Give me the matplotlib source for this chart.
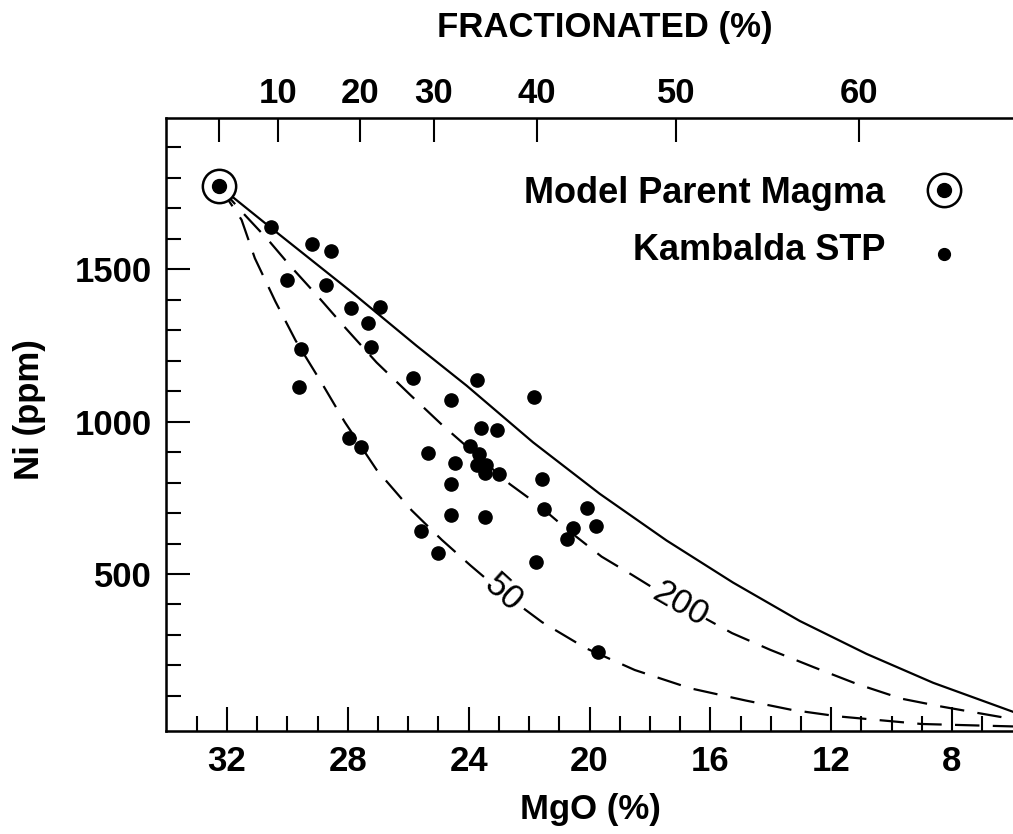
import matplotlib
matplotlib.use("Agg")
import matplotlib.pyplot as plt

plt.rcParams['font.family'] = ['Liberation Sans', 'DejaVu Sans']
plt.rcParams['font.weight'] = 'bold'

# model parent magma
parent_mgo = 32.27
parent_ni = 1773

# Kambalda STP samples
stp_mgo = [30.56, 29.19, 28.57, 30.01, 28.72, 27.90, 26.94, 27.32, 29.56, 27.22,
           29.63, 25.84, 27.96, 27.55, 23.73, 24.60, 21.85, 25.35, 23.60, 23.07,
           23.95, 23.67, 24.46, 23.74, 23.43, 23.47, 23.01, 24.57, 21.56, 20.07,
           21.50, 24.57, 23.46, 19.78, 20.54, 20.76, 25.59, 25.01, 21.78, 19.72]
stp_ni = [1638, 1583, 1560, 1463, 1447, 1372, 1375, 1324, 1238, 1246,
          1113, 1142, 946, 915, 1135, 1071, 1079, 898, 980, 973,
          921, 893, 864, 856, 856, 831, 828, 795, 811, 716,
          714, 692, 686, 658, 652, 616, 641, 570, 541, 245]

# fractionation curves
solid_mgo = [32.27, 30.59, 27.94, 25.73, 24.07, 21.87, 19.66, 17.45, 15.25, 13.04, 10.83, 8.62, 5.98]
solid_ni = [1773, 1639, 1430, 1249, 1118, 932, 763, 610, 472, 346, 238, 143, 48]

d200_mgo = [32.27, 31.47, 30.64, 29.92, 29.04, 28.07, 27.05, 25.95, 24.88, 22.64, 21.70,
            20.69, 19.60, 18.59, 16.99, 15.28, 14.01, 12.57, 11.14, 9.67, 8.34, 6.85, 5.98]
d200_ni = [1773, 1684, 1596, 1512, 1416, 1306, 1194, 1089, 989, 795, 727,
           642, 557, 497, 399, 306, 251, 194, 139, 91, 65, 39, 24]

d50_mgo = [32.27, 31.52, 31.08, 30.40, 29.73, 28.85, 28.10, 27.05, 25.89, 24.89, 23.94,
           22.86, 21.57, 20.13, 18.50, 16.66, 14.83, 13.29, 11.77, 9.01, 5.98]
d50_ni = [1773, 1662, 1536, 1394, 1266, 1124, 998, 842, 709, 612, 528,
          437, 342, 257, 185, 125, 85, 54, 33, 8, 0]

# top axis: percent fractionated at MgO positions
frac_mgo = [32.27, 30.32, 27.61, 25.16, 21.75, 17.14, 11.08]
frac_labels = ['', '10', '20', '30', '40', '50', '60']

fs = 25
fig = plt.figure(figsize=(10.13, 8.34), dpi=100)
ax = fig.add_axes([0.1636, 0.1235, 0.8364, 0.7347])

ax.plot(solid_mgo, solid_ni, color='black', lw=1.6)
ax.plot(d200_mgo, d200_ni, color='black', lw=1.6, linestyle=(0, (11, 6)))
ax.plot(d50_mgo, d50_ni, color='black', lw=1.6, linestyle=(0, (11, 6)))

ax.plot(stp_mgo, stp_ni, 'o', color='black', ms=9.5, zorder=3)
ax.plot(parent_mgo, parent_ni, 'o', mfc='white', mec='black', ms=24, mew=1.8, zorder=4)
ax.plot(parent_mgo, parent_ni, 'o', color='black', ms=10, zorder=5)

# curve labels
ax.text(16.99, 399, '200', fontsize=fs, fontweight='normal', rotation=-30, ha='center', va='center',
        bbox=dict(facecolor='white', edgecolor='none', pad=0), zorder=2)
ax.text(22.86, 437, '50', fontsize=fs, fontweight='normal', rotation=-42, ha='center', va='center',
        bbox=dict(facecolor='white', edgecolor='none', pad=0), zorder=2)

ax.set_xlim(34.03, 5.98)
ax.set_ylim(-15, 1995)

ax.set_xticks([32, 28, 24, 20, 16, 12, 8])
ax.set_xticks(range(7, 34), minor=True)
ax.set_yticks([500, 1000, 1500])
ax.set_yticks(range(100, 2000, 100), minor=True)
ax.tick_params(which='major', direction='in', length=17, width=1.5, labelsize=fs)
ax.tick_params(which='minor', direction='in', length=11, width=1.5)
ax.tick_params(axis='x', pad=10)
ax.tick_params(axis='y', pad=10)

for s in ['left', 'bottom', 'top']:
    ax.spines[s].set_linewidth(1.8)
ax.spines['right'].set_visible(False)

ax2 = ax.twiny()
ax2.set_xlim(ax.get_xlim())
ax2.set_xticks(frac_mgo)
ax2.set_xticklabels(frac_labels)
ax2.tick_params(direction='in', length=17, width=1.5, labelsize=fs, pad=6)
ax2.spines['right'].set_visible(False)

# axis titles
fig.text(590 / 1013, 1 - 810 / 834, 'MgO (%)', fontsize=fs, ha='center', va='center')
fig.text(29 / 1013, 1 - 410 / 834, 'Ni (ppm)', fontsize=fs, rotation=90, ha='center', va='center')
fig.text(605 / 1013, 1 - 28 / 834, 'FRACTIONATED (%)', fontsize=fs, ha='center', va='center')

# legend
ax.text(0.849, 0.878, 'Model Parent Magma', transform=ax.transAxes, fontsize=fs + 1,
        ha='right', va='center')
ax.text(0.849, 0.785, 'Kambalda STP', transform=ax.transAxes, fontsize=fs + 1,
        ha='right', va='center')
ax.plot(0.9186, 0.883, 'o', mfc='white', mec='black', ms=24, mew=1.8, transform=ax.transAxes, clip_on=False)
ax.plot(0.9186, 0.883, 'o', color='black', ms=10, transform=ax.transAxes, clip_on=False)
ax.plot(0.9186, 0.7785, 'o', color='black', ms=8.5, transform=ax.transAxes, clip_on=False)

fig.savefig('out.png', dpi=100)
